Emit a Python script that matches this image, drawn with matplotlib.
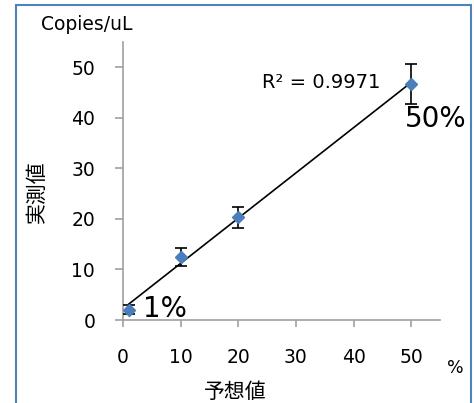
import matplotlib
matplotlib.use("Agg")
import matplotlib.pyplot as plt
import matplotlib.patches as patches
import numpy as np

plt.rcParams['font.family'] = ['DejaVu Sans', 'Noto Sans CJK JP']

expected = [1, 10, 20, 50]
measured = [2.0, 12.5, 20.3, 46.7]
errors = [0.9, 1.8, 2.0, 4.0]
xticks = [0, 10, 20, 30, 40, 50]
yticks = [0, 10, 20, 30, 40, 50]

fig = plt.figure(figsize=(4.74, 4.03), dpi=100)
ax = fig.add_axes([123/474, 1-320/403, 317/474, 278/403])

# trendline
coef = np.polyfit(expected, measured, 1)
xs = np.array([min(expected), max(expected)])
ax.plot(xs, np.polyval(coef, xs), color='black', lw=1.2, zorder=2)
ax.errorbar(expected, measured, yerr=errors, fmt='none', ecolor='black',
            elinewidth=1.2, capsize=4, capthick=1.2, zorder=3)
ax.plot(expected, measured, linestyle='none', marker='D', markersize=6.5,
        color='#4A7EBB', zorder=4)

ax.set_xlim(0, 55)
ax.set_ylim(0, 55)
ax.set_xticks(xticks)
ax.set_yticks(yticks)
for s in ['top', 'right']:
    ax.spines[s].set_visible(False)
for s in ['left', 'bottom']:
    ax.spines[s].set_color('#A0A0A0')
    ax.spines[s].set_linewidth(1.2)
ax.tick_params(axis='x', direction='out', length=5, width=1.2, color='#A0A0A0',
               labelsize=13.5, pad=15)
ax.tick_params(axis='y', direction='out', length=6, width=1.2, color='#A0A0A0',
               labelsize=13.5, pad=14)

fig.text(87/474, 1-25/403, 'Copies/uL', fontsize=13.5, ha='center', va='center')
fig.text(37/474, 1-192/403, '実測値', fontsize=15, rotation=90, ha='center',
         va='center', family=['Noto Sans CJK JP', 'DejaVu Sans'])
fig.text(235/474, 1-392/403, '予想値', fontsize=15, ha='center', va='center',
         family=['Noto Sans CJK JP', 'DejaVu Sans'])
fig.text(455/474, 1-368/403, '%', fontsize=12.5, ha='center', va='center')
fig.text(321/474, 1-83/403, 'R² = 0.9971', fontsize=14, ha='center', va='center')
fig.text(436/474, 1-119/403, '50%', fontsize=20, ha='center', va='center')
fig.text(165/474, 1-309/403, '1%', fontsize=20, ha='center', va='center')

rect = patches.Rectangle((16/474, -0.05), (471-16)/474, 1-5/403+0.05,
                         transform=fig.transFigure, fill=False,
                         edgecolor='#4F81BD', linewidth=1.5, clip_on=False)
fig.patches.append(rect)

fig.savefig('out.png', dpi=100)
